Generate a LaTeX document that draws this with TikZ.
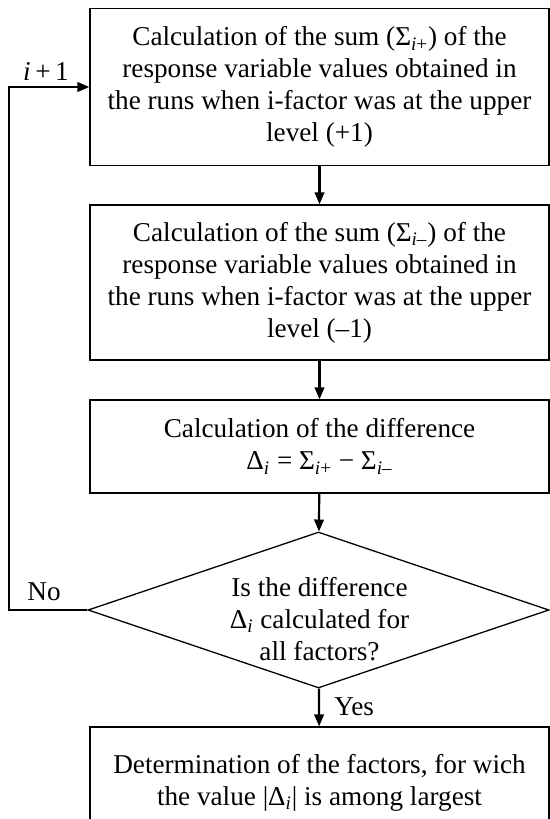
\documentclass[tikz,border=0pt]{standalone}
\usepackage{fontspec}
\setmainfont{Liberation Serif}
\usetikzlibrary{shapes.geometric, arrows.meta}

\newcommand{\subi}[1]{\textsubscript{\textit{i}#1}}

\tikzset{
    block/.style={draw, line width=0.65pt, rectangle, minimum width=229.5pt, inner sep=0pt,
        align=center, font=\fontsize{13.6}{16}\selectfont},
    decision/.style={draw, line width=0.65pt, diamond, aspect=2.95, minimum width=230.5pt,
        minimum height=78pt, inner sep=0pt},
    flow/.style={line width=1.1pt, -{Triangle[length=6pt, width=4.8pt]}},
    tag/.style={font=\fontsize{13.6}{16}\selectfont, inner sep=1pt}
}

\begin{document}
\begin{tikzpicture}[x=0.5pt, y=-0.5pt]
        \useasboundingbox (0, 0) rectangle (550, 819);

        % Steps of the calculation
        \node[block, minimum height=78.5pt] (sumplus) at (319.5, 87)
            {Calculation of the sum (Σ\subi{+}) of the\\ response variable values obtained in\\
             the runs when i-factor was at the upper\\ level (+1)};
        \node[block, minimum height=77.5pt] (summinus) at (319.5, 282.5)
            {Calculation of the sum (Σ\subi{–}) of the\\ response variable values obtained in\\
             the runs when i-factor was at the upper\\ level (–1)};
        \node[block, minimum height=46.5pt] (diff) at (319.5, 446.5)
            {Calculation of the difference\\ Δ\subi{} = Σ\subi{+} − Σ\subi{–}};

        % Check over all factors
        \node[decision] (check) at (318.5, 610) {};
        \node[tag, align=center] (checktext) at (319.5, 619)
            {Is the difference\\ Δ\subi{} calculated for\\ all factors?};

        % Result
        \node[block, minimum height=56pt] (largest) at (319.5, 783)
            {Determination of the factors, for wich\\ the value |Δ\subi{}| is among largest};

        % Main flow
        \draw[flow] (sumplus) -- (summinus);
        \draw[flow] (summinus) -- (diff);
        \draw[flow] (diff) -- (check);
        \draw[flow] (check) -- (largest);
        \node[tag, anchor=west] (yes) at (332, 707) {Yes};

        % Loop back to the next factor
        \coordinate (turn) at (9, 0);
        \draw[flow] (check.west) -- (check.west -| turn) |- (sumplus.west);
        \node[tag] (no) at (44, 592) {No};
        \node[tag] (next) at (46, 71) {\textit{i}\,+\,1};
\end{tikzpicture}
\end{document}
